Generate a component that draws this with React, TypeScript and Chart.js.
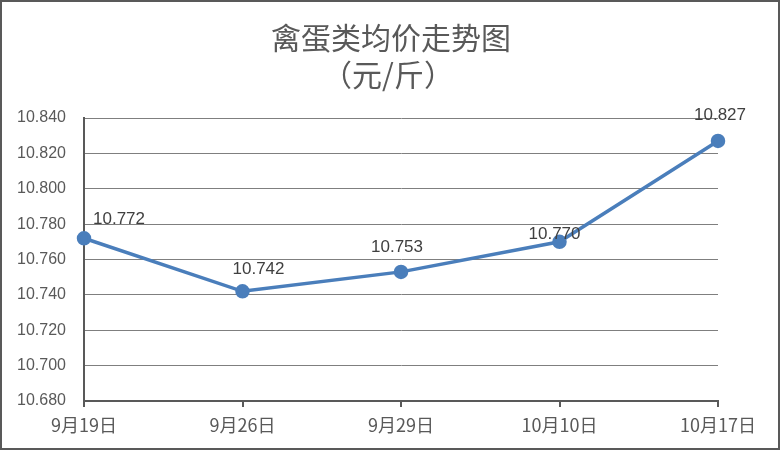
import React, { useEffect, useRef } from "react";
import { Chart, registerables } from "chart.js";

Chart.register(...registerables);

const categories = ["9月19日", "9月26日", "9月29日", "10月10日", "10月17日"];
const prices = [10.772, 10.742, 10.753, 10.77, 10.827];
const titleLines = ["禽蛋类均价走势图", "（元/斤）"];
const yMin = 10.68;
const yMax = 10.84;
const yStep = 0.02;
// label offsets (style): dx, dy relative to the point
const labelOffsets = [
  [35, -19],
  [16, -22],
  [-4, -25],
  [-5, -8],
  [2, -26],
];

const LINE_COLOR = "#4a7ebb";
const TEXT_COLOR = "#595959";
const CJK = "'Noto Sans CJK SC', 'Liberation Sans', sans-serif";
const NUM = "'Liberation Sans', 'Noto Sans CJK SC', sans-serif";

const decorPlugin = {
  id: "decor",
  afterDraw(chart: any) {
    const ctx = chart.ctx;
    ctx.save();
    ctx.fillStyle = TEXT_COLOR;
    ctx.textAlign = "center";
    ctx.textBaseline = "middle";
    ctx.font = `30px ${CJK}`;
    ctx.fillText(titleLines[0], 391, 38);
    ctx.fillText(titleLines[1], 388, 75);
    ctx.strokeStyle = "#595959";
    ctx.lineWidth = 2;
    ctx.strokeRect(1, 1, 778, 448);
    ctx.restore();
  },
  afterDatasetsDraw(chart: any) {
    const ctx = chart.ctx;
    const meta = chart.getDatasetMeta(0);
    ctx.save();
    ctx.fillStyle = "#404040";
    ctx.textAlign = "center";
    ctx.textBaseline = "middle";
    ctx.font = `17px ${NUM}`;
    meta.data.forEach((pt: any, i: number) => {
      const [dx, dy] = labelOffsets[i];
      ctx.fillText(prices[i].toFixed(3), pt.x + dx, pt.y + dy);
    });
    ctx.restore();
  },
};

export default function App() {
  const ref = useRef<HTMLCanvasElement>(null);
  useEffect(() => {
    if (!ref.current) return;
    const chart = new Chart(ref.current, {
      type: "line",
      data: {
        labels: categories,
        datasets: [
          {
            data: prices,
            borderColor: LINE_COLOR,
            backgroundColor: LINE_COLOR,
            borderWidth: 3.5,
            pointRadius: 5.5,
            pointBackgroundColor: LINE_COLOR,
            pointBorderColor: LINE_COLOR,
            tension: 0,
            clip: false as any,
          },
        ],
      },
      options: {
        responsive: false,
        animation: false,
        devicePixelRatio: 1,
        layout: { padding: { top: 118, right: 63, left: 0, bottom: 0 } },
        plugins: {
          legend: { display: false },
          title: { display: false },
          tooltip: { enabled: false },
        },
        scales: {
          x: {
            offset: false,
            grid: {
              drawOnChartArea: false,
              drawTicks: true,
              tickLength: 6,
              color: "#595959",
              lineWidth: 2,
            },
            border: { display: true, color: "#595959", width: 2 },
            ticks: {
              color: TEXT_COLOR,
              font: { family: CJK, size: 18 },
              padding: 7,
              maxRotation: 0,
            },
            afterFit(scale: any) {
              scale.height = 51;
            },
          },
          y: {
            min: yMin,
            max: yMax,
            grid: { color: "#7f7f7f", lineWidth: 1, drawTicks: false },
            border: { display: true, color: "#595959", width: 2 },
            ticks: {
              stepSize: yStep,
              color: TEXT_COLOR,
              font: { family: NUM, size: 16 },
              padding: 18,
              callback: (v: any) => Number(v).toFixed(3),
            },
            afterFit(scale: any) {
              scale.width = 84;
            },
          },
        },
      },
      plugins: [decorPlugin],
    });
    return () => chart.destroy();
  }, []);
  return (
    <div style={{ position: "absolute", left: 0, top: 0, width: 781, height: 452, background: "#fff" }}>
      <canvas ref={ref} width={781} height={452} style={{ display: "block" }} />
    </div>
  );
}
